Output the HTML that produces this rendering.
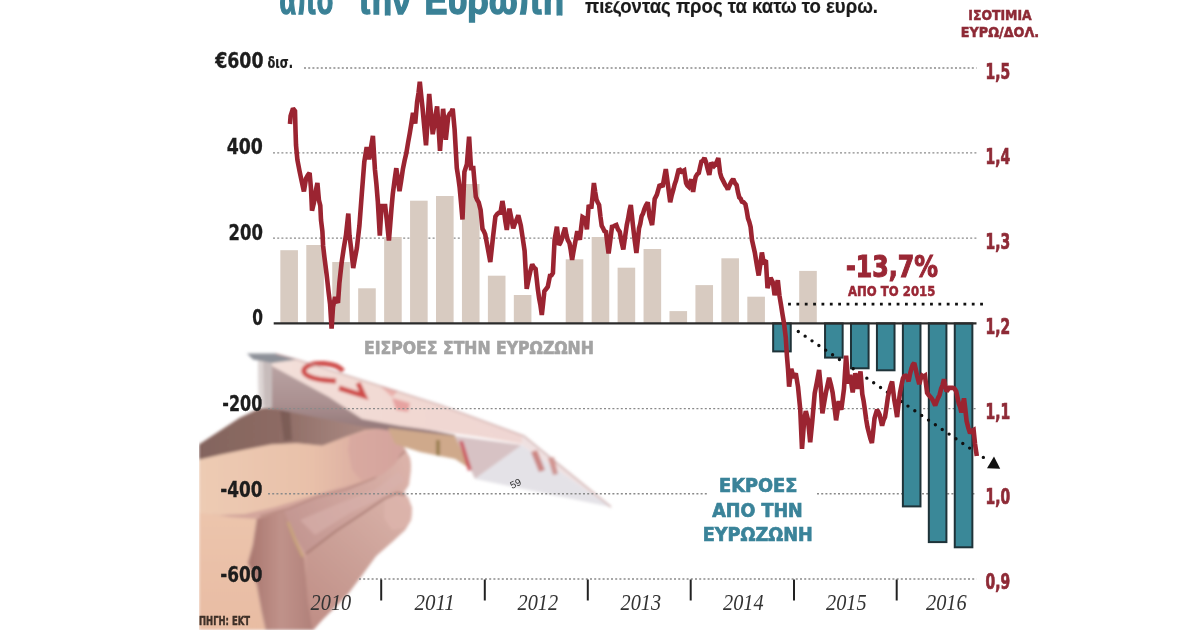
<!DOCTYPE html><html><head><meta charset="utf-8"><title>Εκροές από την Ευρωζώνη</title>
<style>html,body{margin:0;padding:0;background:#fff;}body{width:1200px;height:630px;overflow:hidden;}svg{display:block;}text{font-family:"Liberation Sans","DejaVu Sans",sans-serif;}.b{font-weight:bold;}.yr{font-family:"Liberation Serif","DejaVu Serif",serif;font-style:italic;fill:#333;}</style></head><body>
<svg width="1200" height="630" viewBox="0 0 1200 630">
<rect width="1200" height="630" fill="#fff"/>
<defs>
<filter id="pb" x="-5%" y="-5%" width="110%" height="110%"><feGaussianBlur stdDeviation="1.4"/></filter>
<filter id="pb2" x="-20%" y="-20%" width="140%" height="140%"><feGaussianBlur stdDeviation="5"/></filter>
<linearGradient id="gThumb" x1="199" y1="0" x2="405" y2="0" gradientUnits="userSpaceOnUse"><stop offset="0" stop-color="#edcbb3"/><stop offset="0.55" stop-color="#e8c0a9"/><stop offset="0.85" stop-color="#d9aaa0"/><stop offset="1" stop-color="#cf9d98"/></linearGradient>
<linearGradient id="gDark" x1="199" y1="0" x2="390" y2="0" gradientUnits="userSpaceOnUse"><stop offset="0" stop-color="#83645d"/><stop offset="0.4" stop-color="#8c6a63"/><stop offset="0.7" stop-color="#a07f78"/><stop offset="1" stop-color="#b18e87"/></linearGradient>
<linearGradient id="gPalm" x1="0" y1="500" x2="0" y2="630" gradientUnits="userSpaceOnUse"><stop offset="0" stop-color="#ecc5ad"/><stop offset="1" stop-color="#e8bca3"/></linearGradient>
<linearGradient id="gMid" x1="300" y1="620" x2="410" y2="500" gradientUnits="userSpaceOnUse"><stop offset="0" stop-color="#bf8d85"/><stop offset="0.5" stop-color="#cba097"/><stop offset="1" stop-color="#dab3aa"/></linearGradient>
<linearGradient id="gRing" x1="250" y1="0" x2="312" y2="0" gradientUnits="userSpaceOnUse"><stop offset="0" stop-color="#a9776f"/><stop offset="0.5" stop-color="#c0928a"/><stop offset="1" stop-color="#b1817a"/></linearGradient>
<linearGradient id="gIdx" x1="290" y1="540" x2="410" y2="470" gradientUnits="userSpaceOnUse"><stop offset="0" stop-color="#c29590"/><stop offset="0.6" stop-color="#d1a79f"/><stop offset="1" stop-color="#dbb2a9"/></linearGradient>
<linearGradient id="gWing" x1="270" y1="0" x2="530" y2="0" gradientUnits="userSpaceOnUse"><stop offset="0" stop-color="#f3e0da"/><stop offset="0.5" stop-color="#f1d8d2"/><stop offset="1" stop-color="#efd6d3"/></linearGradient>
<linearGradient id="gFus" x1="0" y1="365" x2="0" y2="428" gradientUnits="userSpaceOnUse"><stop offset="0" stop-color="#b9a3a3"/><stop offset="0.6" stop-color="#aa9090"/><stop offset="1" stop-color="#94797a"/></linearGradient>
<clipPath id="pclip"><rect x="199" y="330" width="430" height="300"/></clipPath>
</defs>
<g clip-path="url(#pclip)"><g filter="url(#pb)">
<!-- hand silhouette base -->
<path d="M199,444.6 L220.4,430.6 L239.5,417.9 L258.5,409 L266,407.7 L330,418 L395,428 L401,436 L404,447 L410,458 L411,466 L407,480 L399,492 L407,499 L412,508 L411,520 L405,530 L392,542 L376,556 L360,578 L346.7,595.6 L333.3,608.9 L322.2,620 L313.3,630 L199,630 Z" fill="#d3a69c"/>
<!-- middle finger (lowest) -->
<path d="M305.7,554 L336,531 L364.8,512 L383.8,499 L397,493 L408,497 L412,508 L411,520 L405,530 L392,542 L376,556 L360,578 L346.7,595.6 L333.3,608.9 L322.2,620 L313.3,630 L308,601 L306,579 Z" fill="url(#gMid)"/>
<path d="M385,500 L397,493 L408,497 L412,508 L411,520 L404,528 L392,530 L384,518 Z" fill="#dcb4ab" opacity="0.8"/>
<!-- index finger (curled) -->
<path d="M284,510 L317,497 L345.7,489.5 L374,478 L393,463 L404.8,451.4 L410,458 L411,470 L409,485 L403,494 L397,493 L383.8,499 L364.8,512 L336,531 L305.7,554 L293,534 Z" fill="url(#gIdx)"/>
<path d="M300,520 L340,503 L375,490 L398,472 L404,480 L385,496 L350,513 L315,535 Z" fill="#d8b3ad" opacity="0.6"/>
<!-- palm lower-left -->
<path d="M199,512 L230,517 L257,519 L253,545 L248,563 L257,585 L262,612 L266,630 L199,630 Z" fill="url(#gPalm)"/>
<!-- ring finger band -->
<path d="M257,519 L284,510 L293,534 L304,557 L306,579 L308,601 L313,630 L266,630 L262,612 L257,585 L248,563 L253,545 Z" fill="url(#gRing)"/>
<!-- finger contour lines -->
<path d="M260,516 L288.6,508.6 L317,497 L345.7,489.5 L374,478 L393,463 L404.8,451.4" fill="none" stroke="#b4867e" stroke-width="1.6"/>
<path d="M305.7,554 L336,531 L364.8,512 L383.8,499 L397,493 L406,495" fill="none" stroke="#a87a72" stroke-width="1.8"/>
<path d="M257,519 L253,545 L248,563 L257,585 L262,612 L266,630" fill="none" stroke="#c49a90" stroke-width="1.4"/>
<!-- ring -->
<path d="M288,522 L295,540 L303,557" fill="none" stroke="#c9a57a" stroke-width="2.6"/>
<!-- dark index-finger shadow (top) -->
<path d="M199,444.6 L220.4,430.6 L239.5,417.9 L258.5,409 L266,407.7 L290,410 L330,418 L360,424 L388,428 L386,437 L350,442 L322,445.8 L296.7,443.3 L271.2,444.6 L245.8,449.6 L220.4,454.7 L199,459.8 Z" fill="url(#gDark)"/>
<path d="M280,410 L290,411 L292,440 L284,441 Z" fill="#6f514b" opacity="0.6"/>
<!-- thumb -->
<path d="M199,459.8 L220.4,454.7 L245.8,449.6 L271.2,444.6 L296.7,443.3 L322,445.8 L345,437 L365,430 L385,428 L396,433 L401,442 L401,453 L395,464 L383,474 L362,482 L335,489 L305,498 L275,507 L245,514 L220,515 L199,513 Z" fill="url(#gThumb)"/>
<!-- thumb tip pinkish -->
<path d="M350,436 L385,428 L396,433 L401,442 L401,453 L395,464 L383,474 L362,481 L352,470 L348,450 Z" fill="#d6a59e" opacity="0.7"/>
<!-- plane: fuselage side -->
<path d="M270,364 L330,395 L362,417 L400,424 L455,435 L455,442 L400,432 L360,426 L300,414 L270,408 Z" fill="url(#gFus)"/>
<!-- plane keel (tan) -->
<path d="M388,428 L455,436 L472,470 L455,459 L420,452 L395,444 Z" fill="#cfa98b"/>
<path d="M436,440 L440,440 L440,456 L436,455 Z" fill="#9c8052"/>
<!-- vertical tail -->
<path d="M258,360 L272,363 L272,408 L259,406 Z" fill="#c7bcbb"/>
<path d="M258,360 L263,361 L264,406 L259,406 Z" fill="#ddd5d4"/>
<!-- wing top surface -->
<path d="M272,360 L296,359 L440,405 L524,436 L522,444 L480,437 L400,426 L362,419 L329,397 L272,366 Z" fill="url(#gWing)"/>
<!-- tail gray strip -->
<path d="M247,353.5 L276,353.5 L297,359.5 L272,363 L253,359.5 Z" fill="#8c9098"/>
<!-- nose left (pinkish grey) -->
<path d="M455,436 L522,445 L475,479 Z" fill="#d7c2c4"/>
<!-- nose right (light grey) -->
<path d="M475,479 L522,445 L611,507 Z" fill="#e4e2e7"/>
<path d="M522,436 L524,436 L611,507 L522,445 Z" fill="#efe1e1"/>
<!-- red "10" marks -->
<path d="M343,371 C336,362 312,361 305,368 C300,374 310,380 336,381" fill="none" stroke="#cf4b48" stroke-width="5"/>
<path d="M339,388 L364,396 L358,383" fill="none" stroke="#cf4b48" stroke-width="5"/>
<path d="M392,398 L410,403 L408,412 L396,410 Z" fill="#e6a2a0"/>
<path d="M380,386 L398,391 L392,397 Z" fill="#eab0ac"/>
<path d="M459,441 L463,441 L472,470 L468,471 Z" fill="#c83c48" opacity="0.75"/>
<path d="M531,452 L537,450 L545,470 L539,472 Z" fill="#c0605a" opacity="0.7"/>
<path d="M548,458 L554,457 L558,474 L553,475 Z" fill="#c0605a" opacity="0.6"/>
<!-- note edge line -->
<path d="M276,354 L297,359.5 L440,405 L524,436 L611,507" fill="none" stroke="#c39a98" stroke-width="1.1"/>
</g></g>
<text x="512" y="489" font-size="10" fill="#333" style="font-family:'Liberation Sans',sans-serif" transform="rotate(-25 512 489)">59</text>

<line x1="304" y1="68.0" x2="976.5" y2="68.0" stroke="#8a8a8a" stroke-width="1.4" stroke-dasharray="2 2.2"/>
<line x1="273" y1="152.9" x2="976.5" y2="152.9" stroke="#8a8a8a" stroke-width="1.4" stroke-dasharray="2 2.2"/>
<line x1="273" y1="238.1" x2="976.5" y2="238.1" stroke="#8a8a8a" stroke-width="1.4" stroke-dasharray="2 2.2"/>
<line x1="268" y1="408.6" x2="976.5" y2="408.6" stroke="#8a8a8a" stroke-width="1.4" stroke-dasharray="2 2.2"/>
<line x1="268" y1="493.8" x2="707" y2="493.8" stroke="#8a8a8a" stroke-width="1.4" stroke-dasharray="2 2.2"/>
<line x1="817" y1="493.8" x2="976.5" y2="493.8" stroke="#8a8a8a" stroke-width="1.4" stroke-dasharray="2 2.2"/>
<line x1="359" y1="579.0" x2="976.5" y2="579.0" stroke="#8a8a8a" stroke-width="1.4" stroke-dasharray="2 2.2"/>
<rect x="280.34" y="250.2" width="17.6" height="73.20" fill="#d8cbc1"/>
<rect x="306.29" y="245" width="17.6" height="78.40" fill="#d8cbc1"/>
<rect x="332.23" y="262" width="17.6" height="61.40" fill="#d8cbc1"/>
<rect x="358.17" y="288.3" width="17.6" height="35.10" fill="#d8cbc1"/>
<rect x="384.12" y="237" width="17.6" height="86.40" fill="#d8cbc1"/>
<rect x="410.06" y="200.7" width="17.6" height="122.70" fill="#d8cbc1"/>
<rect x="436.00" y="196" width="17.6" height="127.40" fill="#d8cbc1"/>
<rect x="461.94" y="184" width="17.6" height="139.40" fill="#d8cbc1"/>
<rect x="487.89" y="275.7" width="17.6" height="47.70" fill="#d8cbc1"/>
<rect x="513.83" y="295" width="17.6" height="28.40" fill="#d8cbc1"/>
<rect x="565.72" y="259.3" width="17.6" height="64.10" fill="#d8cbc1"/>
<rect x="591.66" y="237" width="17.6" height="86.40" fill="#d8cbc1"/>
<rect x="617.60" y="267.7" width="17.6" height="55.70" fill="#d8cbc1"/>
<rect x="643.55" y="249" width="17.6" height="74.40" fill="#d8cbc1"/>
<rect x="669.49" y="311.1" width="17.6" height="12.30" fill="#d8cbc1"/>
<rect x="695.43" y="285.1" width="17.6" height="38.30" fill="#d8cbc1"/>
<rect x="721.37" y="258.3" width="17.6" height="65.10" fill="#d8cbc1"/>
<rect x="747.32" y="296.7" width="17.6" height="26.70" fill="#d8cbc1"/>
<rect x="773.16" y="323.4" width="17.6" height="28.00" fill="#3a8898" stroke="#1f3339" stroke-width="2"/>
<rect x="799.20" y="270.9" width="17.6" height="52.50" fill="#d8cbc1"/>
<rect x="825.05" y="323.4" width="17.6" height="34.20" fill="#3a8898" stroke="#1f3339" stroke-width="2"/>
<rect x="850.99" y="323.4" width="17.6" height="44.90" fill="#3a8898" stroke="#1f3339" stroke-width="2"/>
<rect x="876.93" y="323.4" width="17.6" height="46.90" fill="#3a8898" stroke="#1f3339" stroke-width="2"/>
<rect x="902.88" y="323.4" width="17.6" height="183.00" fill="#3a8898" stroke="#1f3339" stroke-width="2"/>
<rect x="928.82" y="323.4" width="17.6" height="218.70" fill="#3a8898" stroke="#1f3339" stroke-width="2"/>
<rect x="954.76" y="323.4" width="17.6" height="223.90" fill="#3a8898" stroke="#1f3339" stroke-width="2"/>
<line x1="273.7" y1="323.4" x2="976.5" y2="323.4" stroke="#2b2b2b" stroke-width="2.2"/>
<line x1="381.2" y1="579.5" x2="381.2" y2="600.5" stroke="#222" stroke-width="2"/>
<line x1="484.8" y1="579.5" x2="484.8" y2="600.5" stroke="#222" stroke-width="2"/>
<line x1="587.8" y1="579.5" x2="587.8" y2="600.5" stroke="#222" stroke-width="2"/>
<line x1="690.7" y1="579.5" x2="690.7" y2="600.5" stroke="#222" stroke-width="2"/>
<line x1="794.0" y1="579.5" x2="794.0" y2="600.5" stroke="#222" stroke-width="2"/>
<line x1="896.7" y1="579.5" x2="896.7" y2="600.5" stroke="#222" stroke-width="2"/>
<line x1="788.1" y1="304.1" x2="985" y2="304.1" stroke="#111" stroke-width="2.8" stroke-dasharray="2.8 5.55"/>
<line x1="798.3" y1="331.5" x2="984.2" y2="458" stroke="#111" stroke-width="3.4" stroke-linecap="round" stroke-dasharray="0 8.29"/>
<polygon points="994,456.4 987,468.3 1000.2,468.8" fill="#111"/>
<path d="M290.0,124.0 L290.6,116.0 L293.0,108.5 L295.0,111.0 L295.5,130.0 L296.0,145.0 L297.4,160.0 L299.6,171.4 L301.7,181.4 L303.9,191.4 L306.0,178.6 L307.8,175.3 L309.6,172.9 L311.0,188.6 L312.0,210.7 L313.9,202.9 L315.6,192.0 L317.4,182.9 L318.9,200.0 L320.3,205.7 L321.0,220.0 L322.4,231.4 L323.1,245.7 L324.4,257.0 L326.6,274.3 L328.7,292.9 L330.1,304.3 L331.6,328.5 L333.0,307.0 L335.1,297.1 L336.6,300.4 L338.0,302.9 L339.4,282.9 L341.6,262.9 L343.7,248.6 L346.0,235.0 L348.3,213.5 L349.5,235.6 L351.4,250.7 L353.2,268.0 L355.0,258.0 L356.9,247.9 L359.4,225.8 L361.8,193.8 L364.3,161.8 L366.7,147.0 L369.2,159.4 L371.0,147.4 L372.9,136.0 L374.9,169.2 L376.4,184.1 L377.8,201.2 L379.8,235.6 L381.5,206.1 L383.4,206.1 L385.2,206.1 L387.0,222.1 L388.9,240.5 L390.2,224.8 L391.5,208.3 L392.8,193.9 L394.6,180.0 L396.3,168.2 L397.9,179.5 L399.5,191.2 L401.1,181.2 L402.8,169.6 L404.6,160.5 L406.3,153.4 L408.1,142.5 L409.8,133.1 L411.4,123.3 L413.0,112.8 L415.2,123.6 L417.1,102.0 L418.5,93.1 L419.8,81.8 L421.1,94.8 L422.5,107.4 L424.2,126.1 L426.0,145.3 L427.6,120.8 L429.2,93.9 L430.9,112.9 L432.7,134.2 L434.2,125.9 L435.6,115.1 L437.1,106.4 L438.7,129.4 L440.0,150.9 L441.6,128.9 L443.1,108.8 L444.5,123.3 L445.8,139.8 L448.2,116.7 L449.7,113.6 L451.2,112.3 L452.7,108.8 L454.6,129.4 L456.8,168.1 L458.2,176.8 L459.6,187.1 L461.1,203.5 L462.5,219.5 L464.4,171.9 L466.9,164.3 L469.1,136.7 L471.0,168.1 L473.3,168.1 L475.8,196.7 L477.2,199.9 L478.7,202.4 L480.6,210.0 L482.5,229.0 L483.9,231.3 L485.2,234.3 L486.5,241.4 L487.8,248.3 L490.3,262.0 L492.9,238.0 L495.4,216.5 L497.1,214.1 L498.8,212.8 L500.5,212.7 L502.4,201.0 L503.9,209.9 L505.3,220.8 L506.8,230.0 L509.4,208.6 L511.3,218.2 L513.2,228.2 L514.9,223.4 L516.6,219.8 L518.3,215.2 L520.8,225.4 L522.7,238.0 L524.6,250.8 L526.7,288.9 L528.9,277.8 L530.5,270.6 L532.2,264.4 L533.9,267.4 L535.6,268.9 L537.8,288.9 L539.1,298.1 L540.5,305.6 L541.8,315.0 L543.1,303.2 L544.4,291.1 L546.1,289.0 L547.8,286.7 L550.0,275.6 L551.5,275.3 L552.9,273.0 L554.6,239.8 L556.9,226.7 L559.0,245.0 L560.3,243.0 L561.6,239.8 L563.4,233.1 L565.1,227.6 L566.4,234.9 L567.7,239.8 L569.5,243.3 L570.8,250.6 L572.1,259.9 L573.4,252.2 L574.7,245.0 L577.3,231.1 L578.6,236.1 L579.9,239.8 L581.2,227.5 L582.5,217.1 L583.9,218.0 L585.2,218.9 L586.9,229.3 L588.6,206.6 L590.0,206.3 L591.3,208.4 L592.6,196.2 L593.9,183.1 L595.2,192.1 L596.5,199.7 L597.8,202.5 L599.1,204.9 L600.4,216.3 L601.7,225.8 L603.0,228.0 L604.4,231.1 L606.0,232.0 L607.3,243.3 L608.6,253.5 L610.3,240.4 L612.0,226.8 L613.4,226.4 L614.9,225.5 L616.3,225.0 L618.0,229.4 L619.8,232.0 L621.5,241.9 L623.3,249.5 L625.0,237.2 L626.8,225.0 L628.1,218.8 L629.5,210.5 L630.8,205.0 L632.9,225.0 L634.6,239.5 L636.4,253.0 L637.7,241.1 L639.0,228.5 L640.3,223.7 L641.6,216.3 L643.0,213.6 L644.3,209.3 L646.0,205.3 L647.8,202.4 L649.5,216.3 L650.8,220.4 L652.1,225.0 L653.4,212.4 L654.7,198.9 L656.9,194.6 L659.4,185.7 L661.0,185.1 L662.6,186.9 L664.2,177.9 L665.8,169.1 L667.7,183.1 L670.2,202.2 L671.8,195.0 L673.4,189.5 L674.7,184.1 L676.0,180.6 L678.5,170.4 L680.1,169.9 L681.7,171.7 L684.2,170.4 L686.1,183.1 L687.4,185.7 L688.7,186.9 L691.2,179.3 L693.1,192.0 L694.4,183.4 L695.7,176.8 L697.2,174.2 L698.8,173.0 L700.1,167.0 L701.4,161.5 L703.0,160.7 L704.5,157.9 L706.1,162.5 L707.7,169.2 L709.3,175.0 L711.3,162.5 L712.6,164.4 L714.0,166.0 L715.4,164.4 L716.9,161.6 L718.3,158.1 L720.1,172.9 L721.4,177.3 L722.7,179.9 L725.3,185.1 L726.6,186.7 L727.9,189.5 L729.2,186.2 L730.5,183.4 L731.9,180.8 L733.2,179.0 L734.9,183.0 L736.6,185.1 L738.0,192.4 L739.3,197.4 L740.6,198.6 L741.9,201.7 L743.6,202.2 L745.4,204.3 L746.7,210.6 L748.0,218.3 L749.3,222.0 L750.6,227.0 L752.0,240.0 L753.4,246.2 L754.8,252.5 L757.1,266.7 L758.7,275.5 L760.3,264.2 L761.9,252.5 L763.5,262.0 L765.9,260.4 L766.7,274.7 L767.5,288.2 L769.0,282.4 L770.6,277.9 L773.0,282.6 L774.6,295.3 L776.2,286.5 L777.8,280.2 L779.4,295.3 L781.0,304.8 L782.5,314.4 L784.1,323.9 L785.8,337.8 L786.9,355.6 L788.0,368.9 L789.1,386.7 L791.3,368.9 L793.6,377.8 L795.8,373.3 L798.0,386.7 L800.2,408.9 L802.0,448.9 L804.2,420.0 L805.8,411.1 L808.0,420.0 L810.2,442.2 L812.4,420.0 L814.7,393.3 L816.9,382.2 L819.1,370.0 L820.7,386.7 L822.4,413.3 L824.1,403.1 L825.8,393.3 L827.5,385.2 L829.1,377.8 L831.0,385.0 L832.6,392.4 L834.4,406.5 L836.1,420.3 L837.4,411.9 L838.7,401.1 L841.3,409.8 L842.6,399.8 L844.0,388.9 L846.1,355.7 L848.3,383.6 L850.1,374.9 L851.4,383.7 L852.7,392.4 L855.3,373.2 L856.6,381.4 L857.9,388.9 L859.2,380.6 L860.5,371.4 L862.3,394.1 L863.6,400.8 L864.9,409.8 L866.2,419.6 L867.5,427.3 L869.0,433.3 L870.4,438.7 L871.9,443.0 L873.2,431.5 L874.5,418.5 L875.8,413.9 L877.1,409.8 L878.4,412.1 L879.7,415.0 L882.1,425.7 L883.5,420.4 L885.0,417.1 L886.5,407.4 L887.9,397.1 L889.3,390.7 L890.7,385.5 L892.1,381.4 L894.3,400.0 L895.7,407.8 L897.1,417.1 L898.5,404.1 L900.0,392.9 L901.5,385.3 L902.9,378.6 L904.3,376.0 L905.7,375.7 L907.2,377.3 L908.6,381.4 L910.0,374.1 L911.4,368.6 L912.8,364.7 L914.3,362.9 L915.7,368.9 L917.1,375.7 L919.3,384.3 L920.7,378.8 L922.1,375.7 L923.5,376.7 L925.0,375.7 L927.1,392.9 L928.8,395.2 L930.5,397.0 L932.1,398.9 L933.6,402.0 L935.2,405.4 L936.7,401.5 L938.1,398.0 L939.6,394.9 L941.1,388.7 L942.5,385.3 L944.0,379.2 L945.3,386.6 L946.6,391.4 L947.9,389.6 L949.2,387.9 L951.0,387.9 L952.7,387.9 L954.5,388.6 L956.2,391.4 L958.8,403.6 L960.1,407.0 L961.4,412.4 L962.7,405.0 L964.0,398.4 L965.3,409.1 L966.6,421.1 L968.4,428.1 L970.1,433.3 L971.9,430.7 L973.6,429.8 L975.0,443.8 L976.8,456.0" fill="none" stroke="#9b2431" stroke-width="4.6" stroke-linejoin="miter" stroke-miterlimit="2" stroke-linecap="butt"/>
<clipPath id="tclip"><rect x="0" y="0" width="1200" height="15.6"/><rect x="462" y="0" width="22" height="24"/></clipPath>
<g clip-path="url(#tclip)">
<text x="279.5" y="13.6" font-size="40" font-weight="bold" fill="#3a8196" stroke="#3a8196" stroke-width="1.5" textLength="53.7" lengthAdjust="spacingAndGlyphs">από</text>
<text x="357.0" y="13.6" font-size="40" font-weight="bold" fill="#3a8196" stroke="#3a8196" stroke-width="1.5" textLength="53.5" lengthAdjust="spacingAndGlyphs">την</text>
<text x="424.6" y="13.6" font-size="40" font-weight="bold" fill="#3a8196" stroke="#3a8196" stroke-width="1.5" textLength="139.5" lengthAdjust="spacingAndGlyphs">Ευρώπη</text>
</g>
<clipPath id="sclip"><rect x="0" y="1.3" width="1200" height="40"/></clipPath>
<g clip-path="url(#sclip)">
<text x="585" y="13.2" font-size="21" font-weight="bold" style='font-family:"Liberation Sans",sans-serif' fill="#1b1b1b" stroke="#1b1b1b" stroke-width="0.2" textLength="293.0" lengthAdjust="spacingAndGlyphs">πιέζοντας προς τα κάτω το ευρώ.</text>
</g>
<text x="968.3" y="20" font-size="13.5" font-weight="bold" style='font-family:"DejaVu Sans Condensed","DejaVu Sans",sans-serif' fill="#8e2a36" stroke="#8e2a36" stroke-width="0.47" textLength="63.4" lengthAdjust="spacingAndGlyphs">ΙΣΟΤΙΜΙΑ</text>
<text x="960.8" y="36.7" font-size="13.5" font-weight="bold" style='font-family:"DejaVu Sans Condensed","DejaVu Sans",sans-serif' fill="#8e2a36" stroke="#8e2a36" stroke-width="0.47" textLength="78.4" lengthAdjust="spacingAndGlyphs">ΕΥΡΩ/ΔΟΛ.</text>
<text x="215.2" y="68.4" font-size="21.5" font-weight="bold" style='font-family:"DejaVu Sans Condensed","DejaVu Sans",sans-serif' fill="#1d1d1d" stroke="#1d1d1d" stroke-width="0.3" textLength="48.3" lengthAdjust="spacingAndGlyphs">€600</text>
<text x="267.5" y="68.4" font-size="16" font-weight="bold" style='font-family:"DejaVu Sans Condensed","DejaVu Sans",sans-serif' fill="#1d1d1d" stroke="#1d1d1d" stroke-width="0.2" textLength="25.5" lengthAdjust="spacingAndGlyphs">δισ.</text>
<text x="226.7" y="153.8" font-size="21" font-weight="bold" style='font-family:"DejaVu Sans Condensed","DejaVu Sans",sans-serif' fill="#1d1d1d" stroke="#1d1d1d" stroke-width="0.3" textLength="36.2" lengthAdjust="spacingAndGlyphs">400</text>
<text x="228.6" y="239.5" font-size="21" font-weight="bold" style='font-family:"DejaVu Sans Condensed","DejaVu Sans",sans-serif' fill="#1d1d1d" stroke="#1d1d1d" stroke-width="0.3" textLength="34.3" lengthAdjust="spacingAndGlyphs">200</text>
<text x="252.3" y="325.3" font-size="21" font-weight="bold" style='font-family:"DejaVu Sans Condensed","DejaVu Sans",sans-serif' fill="#1d1d1d" stroke="#1d1d1d" stroke-width="0.3" textLength="10.7" lengthAdjust="spacingAndGlyphs">0</text>
<text x="222.3" y="411" font-size="21" font-weight="bold" style='font-family:"DejaVu Sans Condensed","DejaVu Sans",sans-serif' fill="#1d1d1d" stroke="#1d1d1d" stroke-width="0.3" textLength="40.0" lengthAdjust="spacingAndGlyphs">-200</text>
<text x="220.3" y="496.8" font-size="21" font-weight="bold" style='font-family:"DejaVu Sans Condensed","DejaVu Sans",sans-serif' fill="#1d1d1d" stroke="#1d1d1d" stroke-width="0.3" textLength="42.3" lengthAdjust="spacingAndGlyphs">-400</text>
<text x="220.3" y="582.4" font-size="21" font-weight="bold" style='font-family:"DejaVu Sans Condensed","DejaVu Sans",sans-serif' fill="#1d1d1d" stroke="#1d1d1d" stroke-width="0.3" textLength="42.3" lengthAdjust="spacingAndGlyphs">-600</text>
<text x="985.6" y="78.8" font-size="21" font-weight="bold" style='font-family:"DejaVu Sans Condensed","DejaVu Sans",sans-serif' fill="#8e2a36" stroke="#8e2a36" stroke-width="0.74" textLength="24.6" lengthAdjust="spacingAndGlyphs">1,5</text>
<text x="985.6" y="163.6" font-size="21" font-weight="bold" style='font-family:"DejaVu Sans Condensed","DejaVu Sans",sans-serif' fill="#8e2a36" stroke="#8e2a36" stroke-width="0.74" textLength="24.6" lengthAdjust="spacingAndGlyphs">1,4</text>
<text x="985.6" y="248.7" font-size="21" font-weight="bold" style='font-family:"DejaVu Sans Condensed","DejaVu Sans",sans-serif' fill="#8e2a36" stroke="#8e2a36" stroke-width="0.74" textLength="24.6" lengthAdjust="spacingAndGlyphs">1,3</text>
<text x="985.6" y="333.9" font-size="21" font-weight="bold" style='font-family:"DejaVu Sans Condensed","DejaVu Sans",sans-serif' fill="#8e2a36" stroke="#8e2a36" stroke-width="0.74" textLength="24.6" lengthAdjust="spacingAndGlyphs">1,2</text>
<text x="985.6" y="419" font-size="21" font-weight="bold" style='font-family:"DejaVu Sans Condensed","DejaVu Sans",sans-serif' fill="#8e2a36" stroke="#8e2a36" stroke-width="0.74" textLength="24.6" lengthAdjust="spacingAndGlyphs">1,1</text>
<text x="985.6" y="504.1" font-size="21" font-weight="bold" style='font-family:"DejaVu Sans Condensed","DejaVu Sans",sans-serif' fill="#8e2a36" stroke="#8e2a36" stroke-width="0.74" textLength="24.6" lengthAdjust="spacingAndGlyphs">1,0</text>
<text x="985.6" y="589.2" font-size="21" font-weight="bold" style='font-family:"DejaVu Sans Condensed","DejaVu Sans",sans-serif' fill="#8e2a36" stroke="#8e2a36" stroke-width="0.74" textLength="24.6" lengthAdjust="spacingAndGlyphs">0,9</text>
<text class="yr" x="310.6" y="609.5" font-size="23" textLength="40.6" lengthAdjust="spacingAndGlyphs">2010</text>
<text class="yr" x="414.5" y="609.5" font-size="23" textLength="40.3" lengthAdjust="spacingAndGlyphs">2011</text>
<text class="yr" x="517.5" y="609.5" font-size="23" textLength="40.5" lengthAdjust="spacingAndGlyphs">2012</text>
<text class="yr" x="620.5" y="609.5" font-size="23" textLength="40.5" lengthAdjust="spacingAndGlyphs">2013</text>
<text class="yr" x="723" y="609.5" font-size="23" textLength="40.5" lengthAdjust="spacingAndGlyphs">2014</text>
<text class="yr" x="826" y="609.5" font-size="23" textLength="40.5" lengthAdjust="spacingAndGlyphs">2015</text>
<text class="yr" x="926" y="609.5" font-size="23" textLength="40.7" lengthAdjust="spacingAndGlyphs">2016</text>
<text x="846" y="277" font-size="31" font-weight="bold" style='font-family:"DejaVu Sans Condensed","DejaVu Sans",sans-serif' fill="#9a2735" stroke="#9a2735" stroke-width="1.09" textLength="92.0" lengthAdjust="spacingAndGlyphs">-13,7%</text>
<text x="848" y="296.3" font-size="13.2" font-weight="bold" style='font-family:"DejaVu Sans Condensed","DejaVu Sans",sans-serif' fill="#9a2735" stroke="#9a2735" stroke-width="0.46" textLength="87.3" lengthAdjust="spacingAndGlyphs">ΑΠΟ ΤΟ 2015</text>
<text x="364.1" y="353.8" font-size="18" font-weight="bold" style='font-family:"DejaVu Sans Condensed","DejaVu Sans",sans-serif' fill="#a3a3a3" stroke="#a3a3a3" stroke-width="0.63" textLength="229.7" lengthAdjust="spacingAndGlyphs">ΕΙΣΡΟΕΣ ΣΤΗΝ ΕΥΡΩΖΩΝΗ</text>
<text x="719" y="492" font-size="19.5" font-weight="bold" style='font-family:"DejaVu Sans Condensed","DejaVu Sans",sans-serif' fill="#3a8399" stroke="#3a8399" stroke-width="0.68" textLength="78.3" lengthAdjust="spacingAndGlyphs">ΕΚΡΟΕΣ</text>
<text x="712.3" y="517" font-size="19.5" font-weight="bold" style='font-family:"DejaVu Sans Condensed","DejaVu Sans",sans-serif' fill="#3a8399" stroke="#3a8399" stroke-width="0.68" textLength="90.4" lengthAdjust="spacingAndGlyphs">ΑΠΟ ΤΗΝ</text>
<text x="702.8" y="541.2" font-size="19.5" font-weight="bold" style='font-family:"DejaVu Sans Condensed","DejaVu Sans",sans-serif' fill="#3a8399" stroke="#3a8399" stroke-width="0.68" textLength="110.0" lengthAdjust="spacingAndGlyphs">ΕΥΡΩΖΩΝΗ</text>
<text x="199" y="624.6" font-size="11.5" font-weight="bold" style='font-family:"DejaVu Sans Condensed","DejaVu Sans",sans-serif' fill="#3e3028" stroke="#3e3028" stroke-width="0.4" textLength="51.0" lengthAdjust="spacingAndGlyphs">ΠΗΓΗ: ΕΚΤ</text>
</svg></body></html>
